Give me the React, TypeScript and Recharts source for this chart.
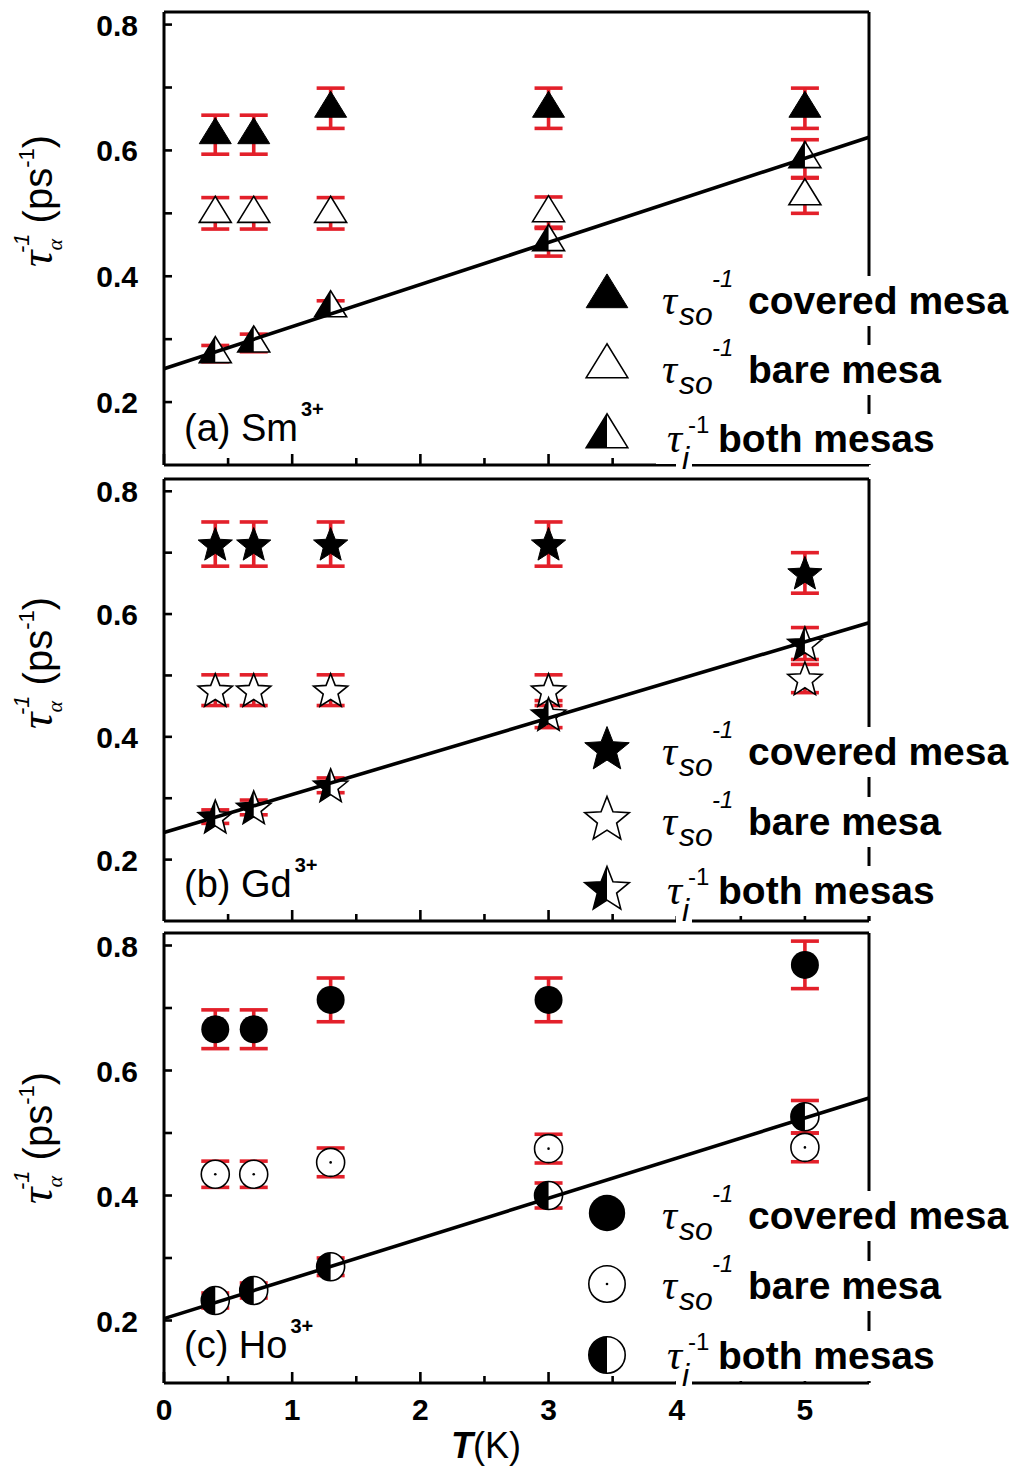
import React from 'react';
import { ComposedChart, Scatter, XAxis, YAxis, ErrorBar } from 'recharts';

// Temperatures (K) at which every series was measured
const temps = [0.4, 0.7, 1.3, 3, 5];

// (a) Sm3+
const smCovered = [0.625, 0.625, 0.667, 0.667, 0.667];
const smCoveredErr = [0.031, 0.031, 0.032, 0.032, 0.032];
const smBare = [0.5, 0.5, 0.5, 0.501, 0.528];
const smBareErr = [0.025, 0.025, 0.025, 0.025, 0.028];
const smBoth = [0.277, 0.294, 0.35, 0.455, 0.587];
const smBothErr = [0.013, 0.014, 0.011, 0.023, 0.03];
const smFit = [0.253, 0.621];

// (b) Gd3+
const gdCovered = [0.714, 0.714, 0.714, 0.714, 0.667];
const gdCoveredErr = [0.036, 0.036, 0.036, 0.036, 0.033];
const gdBare = [0.476, 0.476, 0.476, 0.476, 0.495];
const gdBareErr = [0.025, 0.025, 0.025, 0.025, 0.023];
const gdBoth = [0.27, 0.285, 0.321, 0.437, 0.552];
const gdBothErr = [0.011, 0.012, 0.012, 0.022, 0.026];
const gdFit = [0.244, 0.586];

// (c) Ho3+
const hoCovered = [0.666, 0.666, 0.713, 0.713, 0.769];
const hoCoveredErr = [0.031, 0.031, 0.035, 0.035, 0.038];
const hoBare = [0.434, 0.434, 0.453, 0.475, 0.477];
const hoBareErr = [0.021, 0.021, 0.023, 0.023, 0.023];
const hoBoth = [0.232, 0.248, 0.286, 0.4, 0.526];
const hoBothErr = [0.012, 0.012, 0.014, 0.02, 0.026];
const hoFit = [0.203, 0.556];

// Linear fit drawn between these temperatures
const fitTemps = [0, 5.5];

// Axes
const xDomain = [0, 5.5];
const xTicks = [0, 0.5, 1, 1.5, 2, 2.5, 3, 3.5, 4, 4.5, 5, 5.5];
const xTickLabels = [0, 1, 2, 3, 4, 5];
const yDomain = [0.1, 0.82];
const yTicks = [0.2, 0.3, 0.4, 0.5, 0.6, 0.7, 0.8];
const yTickLabels = [0.2, 0.4, 0.6, 0.8];

// Legend texts
const legendSubs = ['so', 'so', 'i'];
const legendTexts = ['covered mesa', 'bare mesa', 'both mesas'];
const panelLabels = ['(a) Sm', '(b) Gd', '(c) Ho'];
const ionCharge = '3+';

const RED = '#e3202a';
const SANS = "'Liberation Sans', Arial, sans-serif";
const SERIF = "'Liberation Serif', 'Times New Roman', serif";

type Kind = 'tri' | 'star' | 'circle';
type FillMode = 'full' | 'open' | 'half';

function starPts(cx: number, cy: number, R: number, r: number): number[][] {
  const pts: number[][] = [];
  for (let k = 0; k < 10; k++) {
    const a = ((-90 + 36 * k) * Math.PI) / 180;
    const rad = k % 2 === 0 ? R : r;
    pts.push([cx + rad * Math.cos(a), cy + rad * Math.sin(a)]);
  }
  return pts;
}

const ptsStr = (p: number[][]) => p.map((q) => `${q[0]},${q[1]}`).join(' ');

function Marker({ kind, fill, cx, cy, s = 1 }: { kind: Kind; fill: FillMode; cx: number; cy: number; s?: number }) {
  if (cx == null || cy == null || isNaN(cx) || isNaN(cy)) return <g />;
  const sw = 1.6;
  if (kind === 'tri') {
    const hw = 16 * s;
    const top = cy - 17 * s;
    const base = cy + 9 * s;
    const whole = `${cx},${top} ${cx - hw},${base} ${cx + hw},${base}`;
    if (fill === 'full') return <polygon points={whole} fill="#000" stroke="#000" strokeWidth={1} />;
    return (
      <g>
        <polygon points={whole} fill="#fff" stroke="#000" strokeWidth={sw} />
        {fill === 'half' && <polygon points={`${cx},${top} ${cx - hw},${base} ${cx},${base}`} fill="#000" />}
      </g>
    );
  }
  if (kind === 'star') {
    const p = starPts(cx, cy + 1.5 * s, 18 * s, 7.8 * s);
    if (fill === 'full') return <polygon points={ptsStr(p)} fill="#000" stroke="#000" strokeWidth={1} />;
    const left = [p[0], p[9], p[8], p[7], p[6], p[5]];
    return (
      <g>
        <polygon points={ptsStr(p)} fill="#fff" stroke="#000" strokeWidth={sw} />
        {fill === 'half' && <polygon points={ptsStr(left)} fill="#000" />}
      </g>
    );
  }
  const r = 14 * s;
  if (fill === 'full') return <circle cx={cx} cy={cy} r={r} fill="#000" />;
  return (
    <g>
      <circle cx={cx} cy={cy} r={r} fill="#fff" stroke="#000" strokeWidth={sw} />
      {fill === 'half' && <path d={`M${cx},${cy - r} A${r},${r} 0 0 0 ${cx},${cy + r} Z`} fill="#000" />}
      {fill === 'open' && <circle cx={cx} cy={cy} r={1.3} fill="#000" />}
    </g>
  );
}

const isMajorX = (v: number) => xTickLabels.some((t) => Math.abs(t - v) < 1e-6);
const isMajorY = (v: number) => yTickLabels.some((t) => Math.abs(t - v) < 1e-6);

function makeXTick(side: 'bottom' | 'top', showLabels: boolean) {
  return (props: any) => {
    const { x, y, payload } = props;
    const v = payload.value as number;
    const len = isMajorX(v) ? 11 : 7;
    const dir = side === 'bottom' ? -1 : 1;
    return (
      <g>
        <line x1={x} x2={x} y1={y} y2={y + dir * len} stroke="#000" strokeWidth={2.6} />
        {showLabels && side === 'bottom' && isMajorX(v) && (
          <text x={x} y={y + 37} textAnchor="middle" fontFamily={SANS} fontWeight="bold" fontSize={30} fill="#000">
            {v}
          </text>
        )}
      </g>
    );
  };
}

function makeYTick(side: 'left' | 'right') {
  return (props: any) => {
    const { x, y, payload } = props;
    const v = payload.value as number;
    const dir = side === 'left' ? 1 : -1;
    return (
      <g>
        <line x1={x} x2={x + dir * 8} y1={y} y2={y} stroke="#000" strokeWidth={2.6} />
        {side === 'left' && isMajorY(v) && (
          <text x={x - 26} y={y + 11} textAnchor="end" fontFamily={SANS} fontWeight="bold" fontSize={30} fill="#000">
            {v.toFixed(1)}
          </text>
        )}
      </g>
    );
  };
}

const rows = (vals: number[], errs: number[]) => temps.map((t, i) => ({ T: t, v: vals[i], e: errs[i] }));
const fitRows = (vals: number[]) => fitTemps.map((t, i) => ({ T: t, v: vals[i] }));
const Empty = () => <g />;

type PanelProps = {
  top: number;
  height: number;
  marginTop: number;
  marginBottom: number;
  kind: Kind;
  covered: number[];
  coveredErr: number[];
  bare: number[];
  bareErr: number[];
  both: number[];
  bothErr: number[];
  fit: number[];
  showXLabels: boolean;
};

function Panel(p: PanelProps) {
  const cov = rows(p.covered, p.coveredErr);
  const bar = rows(p.bare, p.bareErr);
  const bot = rows(p.both, p.bothErr);
  const axisLine = { stroke: '#000', strokeWidth: 3 };
  const ebar = (data: any[], key: string) => (
    <Scatter key={key} data={data} dataKey="v" xAxisId="b" yAxisId="l" shape={Empty} isAnimationActive={false} legendType="none">
      <ErrorBar dataKey="e" direction="y" width={14} stroke={RED} strokeWidth={3.6} isAnimationActive={false} />
    </Scatter>
  );
  // axes take 1px each so the plot box sits at x 164..869
  return (
    <div style={{ position: 'absolute', left: 0, top: p.top }}>
      <ComposedChart
        width={1016}
        height={p.height}
        margin={{ top: p.marginTop - 1, bottom: p.marginBottom - 1, left: 163, right: 146 }}
      >
        <XAxis xAxisId="b" dataKey="T" type="number" orientation="bottom" domain={xDomain} ticks={xTicks} interval={0}
          height={1} tickSize={0} tickMargin={0} axisLine={axisLine} tickLine={false} tick={makeXTick('bottom', p.showXLabels)} />
        <XAxis xAxisId="t" dataKey="T" type="number" orientation="top" domain={xDomain} ticks={xTicks} interval={0}
          height={1} tickSize={0} tickMargin={0} axisLine={axisLine} tickLine={false} tick={makeXTick('top', false)} />
        <YAxis yAxisId="l" dataKey="v" type="number" orientation="left" domain={yDomain} ticks={yTicks} interval={0}
          width={1} tickSize={0} tickMargin={0} axisLine={axisLine} tickLine={false} tick={makeYTick('left')} />
        <YAxis yAxisId="r" dataKey="v" type="number" orientation="right" domain={yDomain} ticks={yTicks} interval={0}
          width={1} tickSize={0} tickMargin={0} axisLine={axisLine} tickLine={false} tick={makeYTick('right')} />
        <Scatter data={cov} dataKey="v" xAxisId="b" yAxisId="l" isAnimationActive={false} legendType="none"
          shape={(sp: any) => <Marker kind={p.kind} fill="full" cx={sp.cx} cy={sp.cy} />} />
        <Scatter data={bar} dataKey="v" xAxisId="b" yAxisId="l" isAnimationActive={false} legendType="none"
          shape={(sp: any) => <Marker kind={p.kind} fill="open" cx={sp.cx} cy={sp.cy} />} />
        <Scatter data={bot} dataKey="v" xAxisId="b" yAxisId="l" isAnimationActive={false} legendType="none"
          shape={(sp: any) => <Marker kind={p.kind} fill="half" cx={sp.cx} cy={sp.cy} />} />
        <Scatter data={fitRows(p.fit)} dataKey="v" xAxisId="b" yAxisId="l" isAnimationActive={false} legendType="none"
          shape={Empty} line={{ stroke: '#000', strokeWidth: 3.6 }} />
        {ebar(cov, 'ec')}
        {ebar(bar, 'eb')}
        {ebar(bot, 'ed')}
      </ComposedChart>
    </div>
  );
}

function YTitle({ cy }: { cy: number }) {
  return (
    <text transform={`translate(52, ${cy}) rotate(-90)`} textAnchor="middle" fill="#000" fontFamily={SANS}>
      <tspan fontFamily={SERIF} fontStyle="italic" fontSize={46}>τ</tspan>
      <tspan fontFamily={SERIF} fontStyle="italic" fontSize={22} dy={10}>α</tspan>
      <tspan fontStyle="italic" fontSize={22} dx={-14} dy={-33}>-1</tspan>
      <tspan fontSize={40} dx={10} dy={23}>(ps</tspan>
      <tspan fontSize={22} dy={-18}>-1</tspan>
      <tspan fontSize={40} dy={18}>)</tspan>
    </text>
  );
}

function PanelLabel({ idx, y }: { idx: number; y: number }) {
  return (
    <text x={184} y={y} fontFamily={SANS} fontSize={38} fill="#000">
      {panelLabels[idx]}
      <tspan fontSize={20} fontWeight="bold" dx={3} dy={-25}>{ionCharge}</tspan>
    </text>
  );
}

function LegendBlock({ kind, markerY, baseY }: { kind: Kind; markerY: number[]; baseY: number[] }) {
  const fills: FillMode[] = ['full', 'open', 'half'];
  return (
    <g>
      {legendTexts.map((label, i) => {
        const b = baseY[i];
        const last = i === 2;
        const tauX = last ? 667 : 662;
        return (
          <g key={label}>
            <rect x={656} y={b - 38} width={358} height={50} fill="#fff" />
            {last && <rect x={676} y={b} width={16} height={20} fill="#fff" />}
            <Marker kind={kind} fill={fills[i]} cx={607} cy={markerY[i]} s={1.3} />
            <text x={tauX} y={b} fontFamily={SERIF} fontStyle="italic" fontSize={42} fill="#000">τ</text>
            <text x={last ? 682 : 679} y={b + (last ? 17 : 11)} fontFamily={SANS} fontStyle="italic" fontSize={32} fill="#000">
              {legendSubs[i]}
            </text>
            <text x={last ? 688 : 712} y={last ? b - 19 : b - 27} fontFamily={SANS} fontStyle={last ? 'normal' : 'italic'}
              fontSize={24} fill="#000">-1</text>
            <text x={last ? 718 : 748} y={b} fontFamily={SANS} fontWeight="bold" fontSize={39} fill="#000">
              {label}
            </text>
          </g>
        );
      })}
    </g>
  );
}

function Annotations() {
  return (
    <svg width={1016} height={1467} style={{ position: 'absolute', left: 0, top: 0, pointerEvents: 'none' }}>
      <YTitle cy={201} />
      <YTitle cy={663} />
      <YTitle cy={1138} />
      <PanelLabel idx={0} y={441} />
      <PanelLabel idx={1} y={897} />
      <PanelLabel idx={2} y={1358} />
      <LegendBlock kind="tri" markerY={[296, 366, 436]} baseY={[314, 383, 452]} />
      <LegendBlock kind="star" markerY={[748, 818, 888]} baseY={[765, 835, 904]} />
      <LegendBlock kind="circle" markerY={[1213, 1284, 1355]} baseY={[1229, 1299, 1369]} />
      <text x={486} y={1458} textAnchor="middle" fontFamily={SANS} fontSize={36} fill="#000">
        <tspan fontWeight="bold" fontStyle="italic">T</tspan>
        <tspan>(K)</tspan>
      </text>
    </svg>
  );
}

export default function App() {
  return (
    <div style={{ position: 'absolute', left: 0, top: 0, width: 1016, height: 1467, background: '#fff', overflow: 'hidden' }}>
      <Panel top={0} height={470} marginTop={12} marginBottom={5} kind="tri"
        covered={smCovered} coveredErr={smCoveredErr} bare={smBare} bareErr={smBareErr}
        both={smBoth} bothErr={smBothErr} fit={smFit} showXLabels={false} />
      <Panel top={470} height={460} marginTop={9} marginBottom={9} kind="star"
        covered={gdCovered} coveredErr={gdCoveredErr} bare={gdBare} bareErr={gdBareErr}
        both={gdBoth} bothErr={gdBothErr} fit={gdFit} showXLabels={false} />
      <Panel top={930} height={537} marginTop={3} marginBottom={84} kind="circle"
        covered={hoCovered} coveredErr={hoCoveredErr} bare={hoBare} bareErr={hoBareErr}
        both={hoBoth} bothErr={hoBothErr} fit={hoFit} showXLabels={true} />
      <Annotations />
    </div>
  );
}
